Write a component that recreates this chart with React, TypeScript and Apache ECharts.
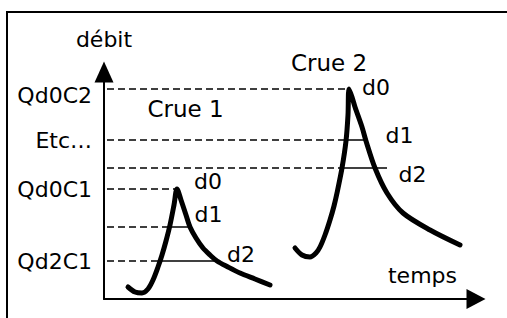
import React, { useEffect, useRef } from "react";
import * as echarts from "echarts";

// Hydrograph of flood 1 (time, discharge) in arbitrary units
const crue1Temps = [24, 31, 38, 44, 49, 54, 58, 62, 66, 70, 73, 77, 82, 86, 92, 99, 106, 113, 124, 136, 151, 166];
const crue1Debit = [12, 7, 6, 10, 19, 32, 44, 58, 74, 94, 110, 99, 84, 72, 61, 51, 44, 38, 32, 26, 20, 14];
// Hydrograph of flood 2
const crue2Temps = [191, 198, 206, 212, 216, 221, 226, 230, 233, 238, 242, 244, 245, 248, 251, 258, 262, 271, 283, 299, 326, 356];
const crue2Debit = [51, 44, 42, 46, 52, 64, 79, 93, 106, 131, 158, 184, 210, 202, 192, 172, 158, 131, 106, 86, 69, 54];

// Reference discharge levels: dashed guide from the axis, then solid segment across the hydrograph
const niveauxDebit = [210, 159, 131, 110, 72, 38];
const finTirets = [245, 242, 238, 73, 64, 56];
const finTrait: (number | null)[] = [null, 262, 283, null, 88, 113];

// Y-axis level names
const nomsNiveaux = ["Qd0C2", "Etc…", "Qd0C1", "Qd2C1"];
const valeursNiveaux = [210, 159, 110, 38];

// Curve annotations
const nomsCrues = ["Crue 1", "Crue 2"];
const crueLabelT = [81.5, 225];
const crueLabelQ = [190.5, 236.5];
const nomsDurees = ["d0", "d1", "d2", "d0", "d1", "d2"];
const dureeLabelT = [104, 104.5, 137, 272, 295.5, 308.5];
const dureeLabelQ = [118, 84.5, 45, 212, 164, 125];

const FONT = "DejaVu Sans";

export default function App() {
  const ref = useRef<HTMLDivElement>(null);
  useEffect(() => {
    if (!ref.current) return;
    const chart = echarts.init(ref.current, undefined, { renderer: "svg" });
    const series: any[] = [];
    niveauxDebit.forEach((q, i) => {
      series.push({
        type: "line",
        data: [[3, q], [finTirets[i], q]],
        symbol: "none",
        lineStyle: { color: "#000", width: 1.5, type: [7, 4] },
        z: 1,
      });
      if (finTrait[i] != null) {
        series.push({
          type: "line",
          data: [[finTirets[i], q], [finTrait[i], q]],
          symbol: "none",
          lineStyle: { color: "#000", width: 1.5 },
          z: 1,
        });
      }
    });
    const courbe = (t: number[], q: number[]) => ({
      type: "line",
      data: t.map((v, i) => [v, q[i]]),
      symbol: "none",
      smooth: 0.3,
      lineStyle: { color: "#000", width: 5, cap: "round", join: "round" },
      z: 3,
    });
    series.push(courbe(crue1Temps, crue1Debit));
    series.push(courbe(crue2Temps, crue2Debit));

    const labelSeries = (data: any[], label: any) => ({
      type: "scatter",
      symbolSize: 0,
      clip: false,
      itemStyle: { opacity: 1, color: "#000" },
      data,
      label: {
        show: true,
        formatter: "{b}",
        color: "#000",
        fontFamily: FONT,
        fontSize: 22,
        ...label,
      },
      z: 4,
    });
    series.push(
      labelSeries(
        nomsNiveaux.map((n, i) => ({
          name: n,
          value: [0, valeursNiveaux[i]],
          label: i === 0 ? { offset: [0, 6] } : undefined,
        })),
        { position: "left", distance: 12 }
      )
    );
    series.push(
      labelSeries(
        nomsCrues.map((n, i) => ({ name: n, value: [crueLabelT[i], crueLabelQ[i]] })),
        { position: "inside", fontSize: 23 }
      )
    );
    series.push(
      labelSeries(
        nomsDurees.map((n, i) => ({ name: n, value: [dureeLabelT[i], dureeLabelQ[i]] })),
        { position: "inside" }
      )
    );

    chart.setOption({
      animation: false,
      backgroundColor: "#fff",
      grid: { left: 104, right: 31, top: 72, bottom: 19, containLabel: false, outerBoundsMode: "none" },
      xAxis: {
        type: "value",
        min: 0,
        max: 372,
        name: "temps",
        nameLocation: "end",
        nameGap: -19,
        nameTextStyle: {
          color: "#000",
          fontFamily: FONT,
          fontSize: 22,
          align: "right",
          verticalAlign: "bottom",
          padding: [0, 0, 13, 0],
        },
        axisLine: {
          show: true,
          onZero: false,
          symbol: ["none", "triangle"],
          symbolSize: [20, 19],
          lineStyle: { color: "#000", width: 2 },
        },
        axisTick: { show: false },
        axisLabel: { show: false },
        splitLine: { show: false },
      },
      yAxis: {
        type: "value",
        min: 0,
        max: 227,
        name: "débit",
        nameLocation: "end",
        nameGap: 22,
        nameTextStyle: { color: "#000", fontFamily: FONT, fontSize: 22, align: "center" },
        axisLine: {
          show: true,
          onZero: false,
          symbol: ["none", "triangle"],
          symbolSize: [19, 21],
          lineStyle: { color: "#000", width: 2 },
        },
        axisTick: { show: false },
        axisLabel: { show: false },
        splitLine: { show: false },
      },
      graphic: [
        {
          type: "rect",
          shape: { x: 7, y: 12, width: 560, height: 400 },
          style: { fill: "none", stroke: "#000", lineWidth: 2 },
          silent: true,
        },
      ],
      series,
    });
    return () => chart.dispose();
  }, []);
  return (
    <div
      ref={ref}
      style={{ position: "fixed", left: 0, top: 0, width: 507, height: 318, background: "#fff" }}
    />
  );
}
